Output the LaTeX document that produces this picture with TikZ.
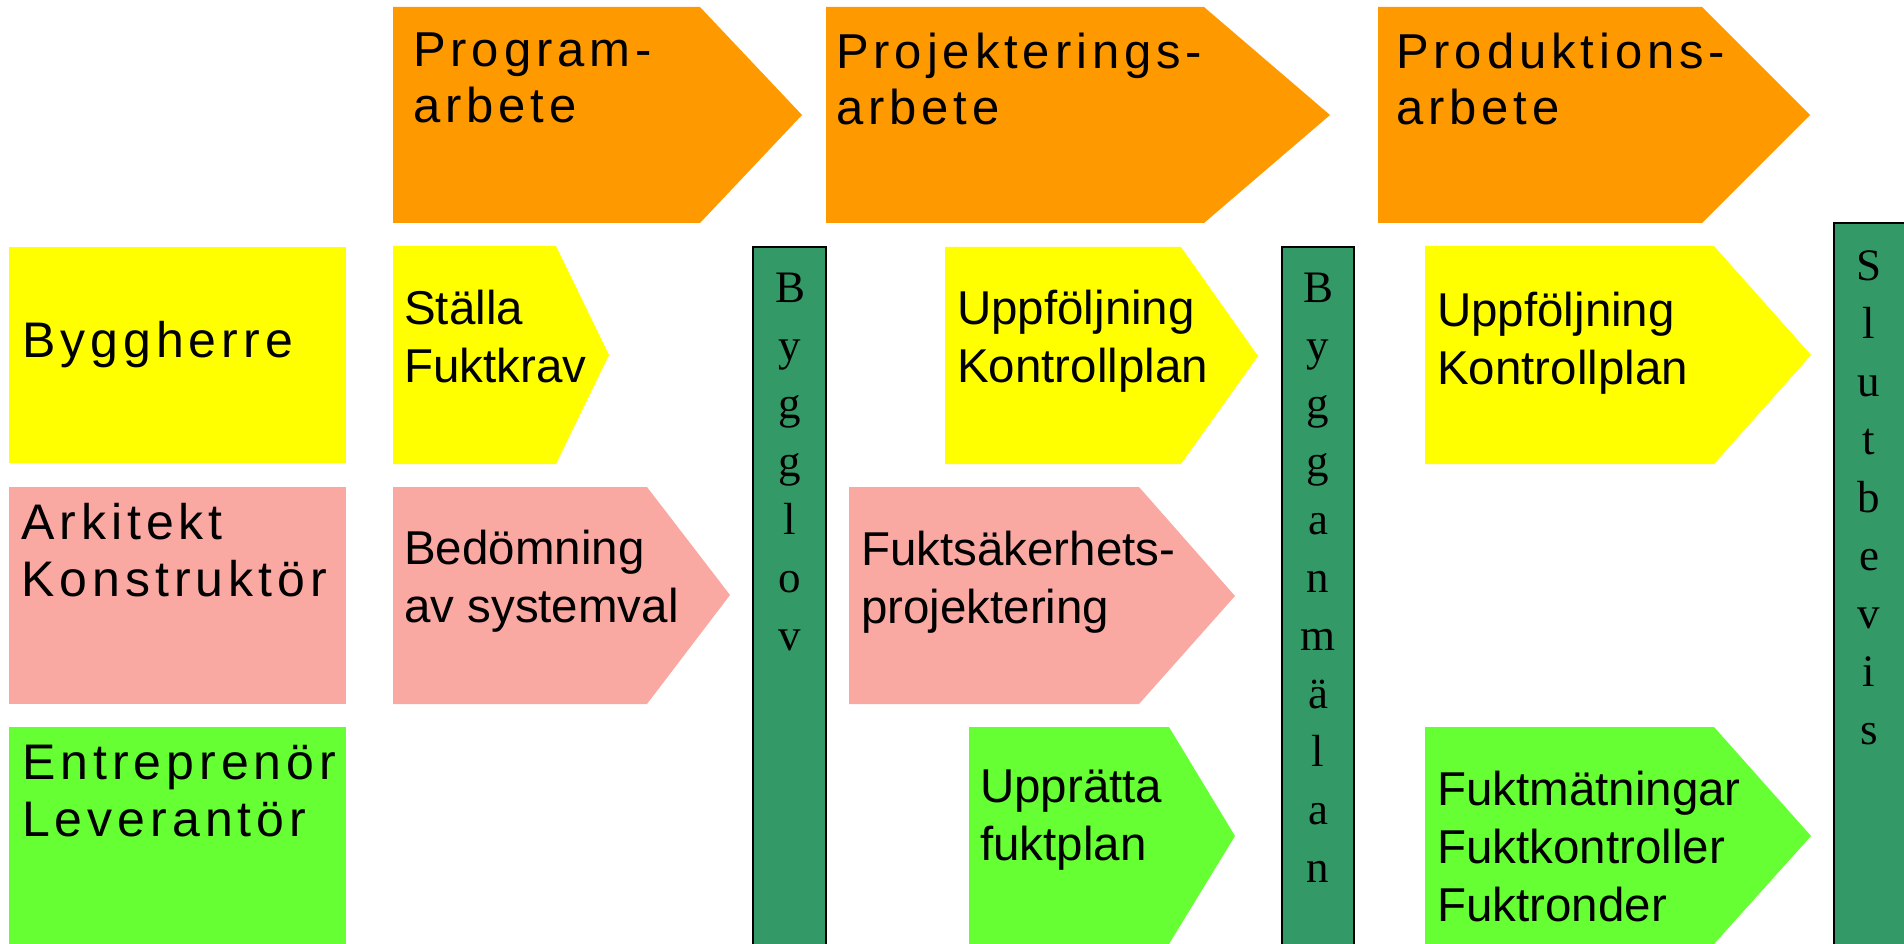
\documentclass[tikz,border=0pt]{standalone}
\usepackage{fontspec}
\setmainfont{Liberation Sans}
\newfontfamily\widefont[LetterSpace=10]{Liberation Sans}
\newfontfamily\barfont{Liberation Serif}
\usepackage{tikz}
\definecolor{hexcolor0xff9900}{rgb}{1.000,0.600,0.000}
\definecolor{hexcolor0xffff00}{rgb}{1.000,1.000,0.000}
\definecolor{hexcolor0xfaa8a2}{rgb}{0.980,0.659,0.635}
\definecolor{hexcolor0x66ff33}{rgb}{0.400,1.000,0.200}
\definecolor{hexcolor0x339966}{rgb}{0.200,0.600,0.400}
\definecolor{myblack}{rgb}{0.000,0.000,0.000}
\tikzstyle{phase}=[fill=hexcolor0xff9900]
\tikzstyle{rowA}=[fill=hexcolor0xffff00]
\tikzstyle{rowB}=[fill=hexcolor0xfaa8a2]
\tikzstyle{rowC}=[fill=hexcolor0x66ff33]
\tikzstyle{bar}=[fill=hexcolor0x339966,draw=myblack,line width=1.2pt]
\tikzstyle{phasetext}=[anchor=north west,inner sep=0,align=left,font=\widefont\fontsize{49}{56}\selectfont]
\tikzstyle{roletext}=[anchor=north west,inner sep=0,align=left,font=\widefont\fontsize{50}{57}\selectfont]
\tikzstyle{steptext}=[anchor=north west,inner sep=0,align=left,font=\fontsize{47.5}{58}\selectfont]
\tikzstyle{bartext}=[anchor=north,inner sep=0,align=center,font=\barfont\fontsize{45}{58}\selectfont]

\begin{document}
\begin{tikzpicture}[x=1pt,y=-1pt]
	\useasboundingbox (0,0) rectangle (1904,944);
	%faser
	\fill [style=phase] (393,7) -- (700,7) -- (802,115) -- (700,223) -- (393,223) -- cycle;
	\fill [style=phase] (826,7) -- (1204,7) -- (1330,115) -- (1204,223) -- (826,223) -- cycle;
	\fill [style=phase] (1378,7) -- (1702,7) -- (1810,115) -- (1702,223) -- (1378,223) -- cycle;
	\node [style=phasetext] (prog) at (413,33) {Program-\\arbete};
	\node [style=phasetext] (proj) at (836,33) {Projekterings-\\arbete};
	\node [style=phasetext] (prod) at (1396,33) {Produktions-\\arbete};
	%roller
	\fill [style=rowA] (9,247) rectangle (346,463);
	\fill [style=rowB] (9,487) rectangle (346,704);
	\fill [style=rowC] (9,727) rectangle (346,944);
	\node [style=roletext] (bh) at (22,321) {Byggherre};
	\node [style=roletext] (ak) at (21,503) {Arkitekt\\Konstruktör};
	\node [style=roletext] (el) at (22,745) {Entreprenör\\Leverantör};
	%aktiviteter
	\fill [style=rowA] (393,246) -- (556,246) -- (609,355) -- (556,464) -- (393,464) -- cycle;
	\fill [style=rowB] (393,487) -- (647,487) -- (730,595) -- (647,704) -- (393,704) -- cycle;
	\fill [style=rowA] (945,247) -- (1181,247) -- (1258,356) -- (1181,464) -- (945,464) -- cycle;
	\fill [style=rowB] (849,487) -- (1139,487) -- (1235,596) -- (1139,704) -- (849,704) -- cycle;
	\fill [style=rowC] (969,727) -- (1169,727) -- (1235,836) -- (1169,944) -- (969,944) -- cycle;
	\fill [style=rowA] (1425,246) -- (1714,246) -- (1811,355) -- (1714,464) -- (1425,464) -- cycle;
	\fill [style=rowC] (1425,727) -- (1714,727) -- (1811,836) -- (1714,944) -- (1425,944) -- cycle;
	\node [style=steptext] (krav) at (404,290) {Ställa\\Fuktkrav};
	\node [style=steptext] (sysval) at (404,530) {Bedömning\\av systemval};
	\node [style=steptext] (kp1) at (957,290) {Uppföljning\\Kontrollplan};
	\node [style=steptext] (fsp) at (861,531) {Fuktsäkerhets-\\projektering};
	\node [style=steptext] (fplan) at (980,770) {Upprätta\\fuktplan};
	\node [style=steptext] (kp2) at (1437,292) {Uppföljning\\Kontrollplan};
	\node [style=steptext] (matn) at (1437,771) {Fuktmätningar\\Fuktkontroller\\Fuktronder};
	%beslut
	\filldraw [style=bar] (753,247) rectangle (826,946);
	\filldraw [style=bar] (1282,247) rectangle (1354,946);
	\filldraw [style=bar] (1834,223) rectangle (1906,946);
	\node [style=bartext] (lov) at (790,273) {B\\y\\g\\g\\l\\o\\v};
	\node [style=bartext] (anm) at (1318,273) {B\\y\\g\\g\\a\\n\\m\\ä\\l\\a\\n};
	\node [style=bartext] (slut) at (1869,250) {S\\l\\u\\t\\b\\e\\v\\i\\s};
\end{tikzpicture}
\end{document}
